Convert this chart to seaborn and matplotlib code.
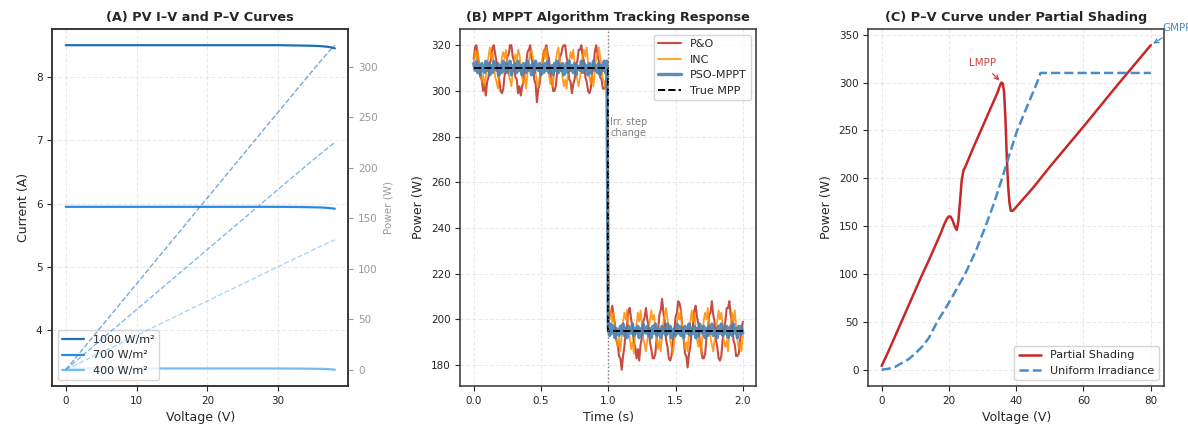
import numpy as np
import pandas as pd
import matplotlib
matplotlib.use("Agg")
import matplotlib.pyplot as plt
from matplotlib.ticker import MultipleLocator
import seaborn as sns

# ---- (A) I-V / P-V data ----
volt_iv = [0, 5, 10, 15, 20, 25, 30, 33, 35, 36, 37, 37.5, 38]
cur_1000 = [8.50, 8.50, 8.50, 8.50, 8.50, 8.50, 8.50, 8.495, 8.49, 8.485, 8.475, 8.465, 8.45]
cur_700 = [5.95, 5.95, 5.95, 5.95, 5.95, 5.95, 5.95, 5.947, 5.943, 5.94, 5.933, 5.927, 5.92]
cur_400 = [3.40, 3.40, 3.40, 3.40, 3.40, 3.40, 3.40, 3.398, 3.396, 3.394, 3.39, 3.386, 3.38]
irr_labels = ["1000 W/m²", "700 W/m²", "400 W/m²"]
irr_colors = ["#1f6fb8", "#2b8ae6", "#74bdf2"]

# ---- (B) MPPT tracking: deviation from true MPP, 10 ms samples ----
mpp_levels = [310, 195]
step_times = [0.0, 1.0, 2.0]
dt = 0.01
po_hi = [4, 9, 10, 5, 2, -4, -5, -10, -7, -12,
         -6, -4, 2, 4, 9, 10, 6, 3, -3, -5,
         -10, -11, -9, -3, -1, 5, 6, 10, 10, 5,
         3, -4, -5, -11, -8, -12, -8, -6, 0, 2,
         7, 8, 10, 4, 2, -5, -7, -15, -9, -7,
         -1, 1, 7, 8, 10, 6, 4, -3, -5, -10,
         -10, -8, -2, 0, 5, 6, 9, 10, 10, 5,
         2, -5, -6, -11, -7, -5, 1, 3, 8, 8,
         10, 5, 3, -4, -6, -10, -11, -9, -2, 1,
         7, 10, 6, 3, -4, -5, -9, -9, -8, -2]
po_lo = [2, 7, 8, 11, 6, 3, -4, -6, -11, -12,
         -17, -11, -7, 0, 3, 9, 10, 5, 2, -5,
         -7, -12, -8, -13, -6, -3, 4, 6, 10, 5,
         2, -5, -8, -12, -12, -10, -3, 0, 7, 9,
         14, 8, 4, -4, -7, -12, -13, -11, -4, -1,
         6, 8, 13, 12, 9, 1, -3, -10, -11, -16,
         -10, -7, 0, 3, 9, 11, 6, 3, -5, -7,
         -12, -12, -10, -3, 0, 7, 8, 13, 7, 4,
         -4, -7, -12, -13, -11, -4, 1, 4, 10, 10,
         13, 7, 4, -4, -6, -11, -11, -10, -4, 0,
         4]
inc_hi = [3, 7, 4, 8, 2, -1, -6, -3, -8, -4,
          1, 5, 9, 4, 7, 1, -4, -6, -9, -3,
          -1, 5, 7, 4, 8, 2, -3, -5, -8, -2,
          2, 6, 3, 8, 6, 1, -4, -7, -3, -9,
          -2, 3, 7, 8, 4, 3, -2, -6, -8, -4,
          -2, 4, 8, 4, 9, 1, -3, -7, -4, -8,
          0, 3, 7, 9, 3, 1, -4, -8, -5, -9,
          -2, 3, 7, 4, 8, 2, -2, -5, -8, -4,
          1, 5, 8, 5, 9, 2, -4, -7, -3, -8,
          -1, 4, 6, 9, 5, 1, -5, -6, -9, -4]
inc_lo = [2, 6, 9, 4, 8, 1, -4, -7, -3, -9,
          -2, 4, 8, 5, 9, 2, -3, -8, -5, -10,
          -1, 3, 8, 4, 9, 3, -3, -6, -9, -4,
          0, 5, 9, 5, 7, 1, -5, -8, -4, -9,
          -2, 4, 7, 10, 5, 2, -4, -7, -10, -5,
          -1, 3, 8, 5, 9, 2, -3, -8, -5, -9,
          0, 4, 9, 4, 8, 1, -4, -7, -3, -10,
          -2, 5, 8, 5, 10, 2, -3, -6, -9, -4,
          1, 4, 9, 5, 8, 3, -5, -7, -4, -9,
          -1, 3, 8, 4, 9, 2, -4, -8, -5, -9,
          -2]
pso_hi = [2, -1, 3, -2, 1, -3, 2, 0, -2, 3,
          -1, 2, -3, 1, -2, 3, 0, -1, 2, -3,
          1, -2, 3, -1, 2, -2, 0, 3, -3, 1,
          -1, 2, -2, 3, -1, 1, -3, 2, 0, -2,
          3, -1, 1, -3, 2, -2, 3, 0, -1, 2,
          -3, 1, -2, 2, -1, 3, -2, 0, 1, -3,
          2, -1, 3, -2, 1, -1, 2, -3, 0, 2,
          -2, 3, -1, 1, -2, 2, -3, 1, 0, -1,
          3, -2, 2, -1, 1, -3, 2, -2, 0, 3,
          -1, 1, -2, 2, -3, 1, -1, 3, -2, 3]
pso_lo = [1, -2, 3, -1, 2, -3, 1, 0, -2, 2,
          -1, 3, -2, 1, -3, 2, 0, -1, 3, -2,
          1, -1, 2, -3, 1, -2, 3, 0, -1, 2,
          -2, 1, -3, 2, -1, 3, -2, 1, 0, -3,
          2, -1, 1, -2, 3, -1, 2, -3, 0, 1,
          -2, 3, -1, 2, -2, 1, -3, 2, 0, -1,
          3, -2, 1, -1, 2, -3, 1, -2, 3, 0,
          -1, 2, -3, 1, -2, 2, -1, 3, -2, 0,
          1, -3, 2, -1, 3, -2, 1, -1, 2, -3,
          0, 2, -2, 3, -1, 1, -3, 2, -1, 2,
          -1]
methods = ["P&O", "INC", "PSO-MPPT"]
method_colors = ["#c0392b", "#ff8c00", "#4682b4"]
method_lw = [1.5, 1.3, 2.4]
method_alpha = [0.9, 0.85, 0.9]

# ---- (C) partial shading P-V ----
ps_v = [0, 2, 4, 6, 8, 10, 12, 14, 16, 17.5, 18.5, 19.3, 19.9, 20.5, 21.1, 21.7,
        22.3, 22.8, 23.3, 23.8, 24.3, 25, 27, 29, 31, 33, 34.5, 35.2, 35.6, 36.0,
        36.4, 36.8, 37.2, 37.6, 38.0, 38.4, 39, 45, 50, 60, 70, 80]
ps_p = [4, 19, 35, 51, 67, 83, 99, 114, 130, 142, 151, 157, 160, 160, 156, 150,
        146, 155, 176, 198, 208, 213, 230, 246, 262, 278, 290, 297, 300, 299,
        290, 262, 222, 192, 174, 166, 166, 190, 212, 254, 297, 339]
uni_v = [0, 2, 4, 6, 8, 10, 12, 14, 16.5, 20, 24.8, 28, 30.9, 33.5, 35.8, 38,
         40.3, 43, 46.2, 47.2, 60, 70, 80]
uni_p = [0, 1, 3, 7, 11, 17, 24, 33, 50, 70, 100, 124, 150, 175, 200, 225,
         250, 273, 300, 310, 310, 310, 310]

sns.set_style("ticks")
plt.rcParams.update({"axes.edgecolor": "#333333", "axes.linewidth": 1.1,
                     "xtick.labelsize": 7.5, "ytick.labelsize": 7.5,
                     "axes.labelsize": 9, "axes.titlesize": 9.3})

fig, axes = plt.subplots(1, 3, figsize=(11.88, 4.26), dpi=100)
fig.subplots_adjust(left=0.044, right=0.98, top=0.932, bottom=0.094, wspace=0.378)

# (A)
ax = axes[0]
ax2 = ax.twinx()
for cur, lab, col in zip([cur_1000, cur_700, cur_400], irr_labels, irr_colors):
    sns.lineplot(x=volt_iv, y=cur, ax=ax, color=col, lw=1.6, label=lab)
    pw = np.array(volt_iv) * np.array(cur)
    sns.lineplot(x=volt_iv, y=pw, ax=ax2, color=col, lw=1.0, ls="--", alpha=0.6)
ax.set_xlabel("Voltage (V)")
ax.set_ylabel("Current (A)")
ax.set_title("(A) PV I–V and P–V Curves", fontweight="bold")
ax.xaxis.set_major_locator(MultipleLocator(10))
ax.grid(True, ls="--", alpha=0.4)
ax.legend(loc="lower left", fontsize=8, framealpha=0.8)
ax2.set_ylabel("Power (W)", color="#999999", fontsize=7.5)
ax2.tick_params(axis="y", colors="#999999")
ax2.spines["right"].set_color("#333333")
ax2.set_yticks([0, 50, 100, 150, 200, 250, 300])

# (B)
ax = axes[1]
segments = [(po_hi, po_lo), (inc_hi, inc_lo), (pso_hi, pso_lo)]
for (hi, lo), name, col, lw, al in zip(segments, methods, method_colors, method_lw, method_alpha):
    t = np.concatenate([step_times[0] + np.arange(len(hi)) * dt,
                        step_times[1] + np.arange(len(lo)) * dt])
    p = np.concatenate([mpp_levels[0] + np.array(hi), mpp_levels[1] + np.array(lo)])
    df = pd.DataFrame({"time": t, "power": p})
    sns.lineplot(data=df, x="time", y="power", ax=ax, color=col, lw=lw, alpha=al,
                 label=name, estimator=None, sort=False)
ax.plot(step_times, [mpp_levels[0], mpp_levels[1], mpp_levels[1]], drawstyle="steps-post",
        color="black", ls="--", lw=1.4, label="True MPP")
ax.axvline(step_times[1], color="gray", ls=":", lw=1)
ax.text(step_times[1] + 0.015, 284, "Irr. step\nchange", fontsize=7, color="gray", va="center")
ax.set_xlabel("Time (s)")
ax.set_ylabel("Power (W)")
ax.set_title("(B) MPPT Algorithm Tracking Response", fontweight="bold")
ax.xaxis.set_major_locator(MultipleLocator(0.5))
ax.grid(True, ls="--", alpha=0.4)
ax.legend(loc="upper right", fontsize=8, framealpha=0.8)

# (C)
ax = axes[2]
sns.lineplot(x=ps_v, y=ps_p, ax=ax, color="#c62828", lw=1.8, label="Partial Shading", sort=False)
sns.lineplot(x=uni_v, y=uni_p, ax=ax, color="#4a8cc7", lw=1.8, ls="--", label="Uniform Irradiance", sort=False)
ax.annotate("LMPP", xy=(35.6, 300), xytext=(30, 320), color="#d04040", fontsize=7.5,
            ha="center", va="center",
            arrowprops=dict(arrowstyle="->", color="#d04040", lw=0.9))
ax.annotate("GMPP", xy=(80, 339), xytext=(83.5, 357), color="#4a8cc7", fontsize=7.5,
            ha="left", va="center", annotation_clip=False,
            arrowprops=dict(arrowstyle="->", color="#4a8cc7", lw=0.9))
ax.set_xlabel("Voltage (V)")
ax.set_ylabel("Power (W)")
ax.set_title("(C) P–V Curve under Partial Shading", fontweight="bold")
ax.xaxis.set_major_locator(MultipleLocator(20))
ax.grid(True, ls="--", alpha=0.4)
ax.legend(loc="lower right", fontsize=8, framealpha=0.8)

fig.savefig("out.png", dpi=100)
